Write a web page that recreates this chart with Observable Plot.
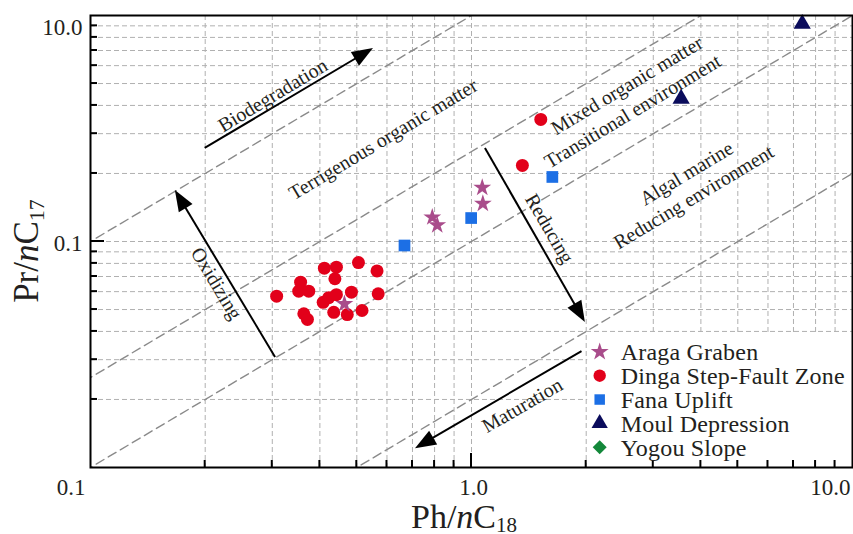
<!DOCTYPE html>
<html><head><meta charset="utf-8">
<script src="https://cdn.jsdelivr.net/npm/d3@7"></script>
<script src="https://cdn.jsdelivr.net/npm/@observablehq/plot@0.6"></script>
<style>
html,body{margin:0;padding:0;background:#fff;}
#chart{position:relative;width:853px;height:534px;overflow:hidden;}
</style></head><body><div id="chart"></div>
<script>
const FONT = "'Liberation Serif','Times New Roman',serif";
const INK = "#231f20";

// ---------- data ----------
const seriesNames   = ["Araga Graben", "Dinga Step-Fault Zone", "Fana Uplift", "Moul Depression", "Yogou Slope"];
const seriesSymbols = ["star", "circle", "square", "triangle", "diamond2"];
const seriesColors  = ["#a94c8b", "#e2001a", "#1c6fe5", "#0b0c5c", "#13883a"];

const aragaPh = [0.464, 0.789, 0.813, 1.067, 1.071];
const aragaPr = [0.053, 0.128, 0.118, 0.173, 0.147];

const dingaPh = [0.308, 0.356, 0.352, 0.374, 0.363, 0.371, 0.411, 0.442, 0.438, 0.505, 0.565,
                 0.569, 0.408, 0.422, 0.442, 0.484, 0.435, 0.472, 0.516, 1.52, 1.36];
const dingaPr = [0.0573, 0.0661, 0.0603, 0.0603, 0.0479, 0.0452, 0.0762, 0.0770, 0.0684, 0.0807, 0.0741,
                 0.0587, 0.0538, 0.0564, 0.0582, 0.0597, 0.0486, 0.0475, 0.0495, 0.347, 0.217];

const fanaPh = [0.667, 0.998, 1.63];
const fanaPr = [0.096, 0.127, 0.193];

const moulPh = [3.55, 7.38];
const moulPr = [0.428, 0.918];

const yogouPh = [];
const yogouPr = [];

// boundary lines Pr/nC17 = k * Ph/nC18
const boundaryRatios = [1, 0.25, 0.1, 0.02];

// grid / ticks
const xGrid = [0.2, 0.3, 0.4, 0.5, 0.6, 0.7, 0.8, 0.9, 1, 2, 3, 4, 5, 6, 7, 8, 9];
const yGrid = [0.02, 0.03, 0.04, 0.05, 0.06, 0.07, 0.08, 0.09, 0.1, 0.2, 0.3, 0.4, 0.5, 0.6, 0.7, 0.8, 0.9];
const xMajor = [1];
const yMajor = [0.1];
const xTickValues = [0.1, 1, 10];
const xTickLabels = ["0.1", "1.0", "10.0"];
const yTickValues = [0.9, 0.1];
const yTickLabels = ["10.0", "0.1"];

// annotations (data space)
const annoText   = ["Biodegradation", "Terrigenous organic matter", "Mixed organic matter", "Transitional environment",
                    "Algal marine", "Reducing environment", "Oxidizing", "Reducing", "Maturation"];
const annoX      = [0.301, 0.587, 2.56, 2.65, 3.67, 3.83, 0.214, 1.60, 1.36];
const annoY      = [0.443, 0.283, 0.49, 0.376, 0.20, 0.157, 0.0652, 0.114, 0.0188];
const annoRotate = [-31, -31, -31, -31, -31, -31, 59, 60, -30];

const arrowFromX = [0.200, 0.306, 1.088, 1.95];
const arrowFromY = [0.258, 0.0307, 0.258, 0.0326];
const arrowToX   = [0.553, 0.167, 1.99, 0.713];
const arrowToY   = [0.714, 0.168, 0.0438, 0.0121];

// legend box corners (data space)
const legendBox = {x1: 2, x2: 10, y1: 0.01, y2: 0.04};

// ---------- build tables ----------
const seriesPh = [aragaPh, dingaPh, fanaPh, moulPh, yogouPh];
const seriesPr = [aragaPr, dingaPr, fanaPr, moulPr, yogouPr];
const seriesR  = [5.6, 6.5, 6.6, 6.4, 6.8];
const drawOrder = [1, 0, 2, 3, 4];
const boundaries = boundaryRatios.flatMap(k => [{k, x: 0.05, y: 0.05 * k}, {k, x: 20, y: 20 * k}]);
const annotations = annoText.map((t, i) => ({t, x: annoX[i], y: annoY[i], r: annoRotate[i]}));
const arrows = arrowFromX.map((x1, i) => ({x1, y1: arrowFromY[i], x2: arrowToX[i], y2: arrowToY[i]}));

function arrowsMark(index, scales) {
  const g = d3.create("svg:g");
  for (const a of arrows) {
    const x1 = scales.x(a.x1), y1 = scales.y(a.y1), x2 = scales.x(a.x2), y2 = scales.y(a.y2);
    const L = Math.hypot(x2 - x1, y2 - y1), ux = (x2 - x1) / L, uy = (y2 - y1) / L;
    const hl = 21, hw = 8;
    const bx = x2 - ux * hl, by = y2 - uy * hl;
    g.append("line").attr("x1", x1).attr("y1", y1).attr("x2", bx + ux * 3).attr("y2", by + uy * 3)
      .attr("stroke", "#000").attr("stroke-width", 2);
    g.append("path").attr("d", `M${x2},${y2}L${bx - uy * hw},${by + ux * hw}L${bx + uy * hw},${by - ux * hw}Z`)
      .attr("fill", "#000");
  }
  return g.node();
}

function ticksMark(index, scales) {
  const g = d3.create("svg:g").attr("stroke", "#000").attr("stroke-width", 2);
  const [xl] = scales.x.range();
  const [yb] = scales.y.range();
  for (const v of xGrid) {
    const px = scales.x(v), len = xMajor.includes(v) ? 14 : 7;
    g.append("line").attr("x1", px).attr("x2", px).attr("y1", yb).attr("y2", yb - len);
  }
  for (const v of yGrid) {
    const py = scales.y(v), len = yMajor.includes(v) ? 14 : 7;
    g.append("line").attr("x1", xl).attr("x2", xl + len).attr("y1", py).attr("y2", py);
  }
  return g.node();
}

function legendMark(index, scales) {
  const g = d3.create("svg:g");
  const left = scales.x(legendBox.x1), top = scales.y(legendBox.y2);
  const symMap = {star: d3.symbolStar, circle: d3.symbolCircle, square: d3.symbolSquare,
                  triangle: d3.symbolTriangle, diamond2: d3.symbolDiamond2};
  const symSize = {star: 100, circle: 120, square: 110, triangle: 115, diamond2: 125};
  seriesNames.forEach((name, i) => {
    const cy = top + 21 + i * 23.8;
    const sym = seriesSymbols[i];
    g.append("path").attr("d", d3.symbol(symMap[sym], symSize[sym])())
      .attr("transform", `translate(${left + 14},${cy})`).attr("fill", seriesColors[i]);
    g.append("text").attr("x", left + 35).attr("y", cy).attr("dy", "0.35em")
      .attr("text-anchor", "start").attr("letter-spacing", "0.2px")
      .attr("font-family", FONT).attr("font-size", 24).attr("fill", INK).text(name);
  });
  return g.node();
}

const marks = [
  Plot.ruleX(xGrid, {x: d => d, stroke: "#b0b0b0", strokeWidth: 1, strokeDasharray: "5,3"}),
  Plot.ruleY(yGrid, {y: d => d, stroke: "#b0b0b0", strokeWidth: 1, strokeDasharray: "5,3"}),
  Plot.line(boundaries, {x: "x", y: "y", z: "k", stroke: "#8a8a8a", strokeWidth: 1.4, strokeDasharray: "9,5", clip: true}),
  Plot.rect([legendBox], {x1: "x1", x2: "x2", y1: "y1", y2: "y2", fill: "white", insetLeft: 1.5, insetTop: 1.5}),
  arrowsMark,
  ...annotations.map(a => Plot.text([a], {x: "x", y: "y", text: "t", rotate: a.r, fontSize: 20,
      fontFamily: FONT, fill: INK, textAnchor: "middle", lineAnchor: "middle"})),
  ...drawOrder.map(s => Plot.dot(seriesPh[s].map((x, i) => ({x, y: seriesPr[s][i]})), {
      x: "x", y: "y", symbol: seriesSymbols[s], fill: seriesColors[s], r: seriesR[s]})),
  Plot.frame({stroke: "#000", strokeWidth: 2}),
  ticksMark,
  legendMark,
  Plot.text([0], {frameAnchor: "bottom", x: () => xTickValues[0], text: () => xTickLabels[0], dy: 20, dx: -5,
      textAnchor: "end", lineAnchor: "middle", fontSize: 23, fontFamily: FONT, fill: INK}),
  Plot.text([0], {frameAnchor: "bottom", x: () => xTickValues[1], text: () => xTickLabels[1], dy: 20, dx: 2,
      textAnchor: "middle", lineAnchor: "middle", fontSize: 23, fontFamily: FONT, fill: INK}),
  Plot.text([0], {frameAnchor: "bottom", x: () => xTickValues[2], text: () => xTickLabels[2], dy: 20, dx: -2,
      textAnchor: "end", lineAnchor: "middle", fontSize: 23, fontFamily: FONT, fill: INK}),
  Plot.text(yTickValues, {frameAnchor: "left", y: d => d, text: (d, i) => yTickLabels[i], dx: -8, dy: 2,
      textAnchor: "end", lineAnchor: "middle", fontSize: 23, fontFamily: FONT, fill: INK})
];

const chart = Plot.plot({
  width: 853, height: 534,
  marginLeft: 90, marginRight: 1, marginTop: 15, marginBottom: 67,
  style: {background: "white", fontFamily: FONT},
  x: {type: "log", domain: [0.1, 10], axis: null},
  y: {type: "log", domain: [0.01, 1], axis: null},
  marks
});

// axis titles with italic n and subscripts
const svg = d3.select(chart);
const [xr0, xr1] = chart.scale("x").range;
const [yr0, yr1] = chart.scale("y").range;
const xt = svg.append("text").attr("x", (xr0 + xr1) / 2 - 7).attr("y", 528)
  .attr("text-anchor", "middle").attr("font-family", FONT).attr("font-size", 34).attr("fill", INK);
xt.append("tspan").text("Ph/");
xt.append("tspan").attr("font-style", "italic").text("n");
xt.append("tspan").text("C");
xt.append("tspan").attr("font-size", 21).attr("dy", 4).text("18");

const yt = svg.append("text").attr("transform", `translate(38,${(yr0 + yr1) / 2 + 10}) rotate(-90)`)
  .attr("text-anchor", "middle").attr("font-family", FONT).attr("font-size", 35).attr("fill", INK);
yt.append("tspan").text("Pr/");
yt.append("tspan").attr("font-style", "italic").text("n");
yt.append("tspan").text("C");
yt.append("tspan").attr("font-size", 22).attr("dy", 6).text("17");

document.getElementById("chart").appendChild(chart);
</script>
</body></html>
